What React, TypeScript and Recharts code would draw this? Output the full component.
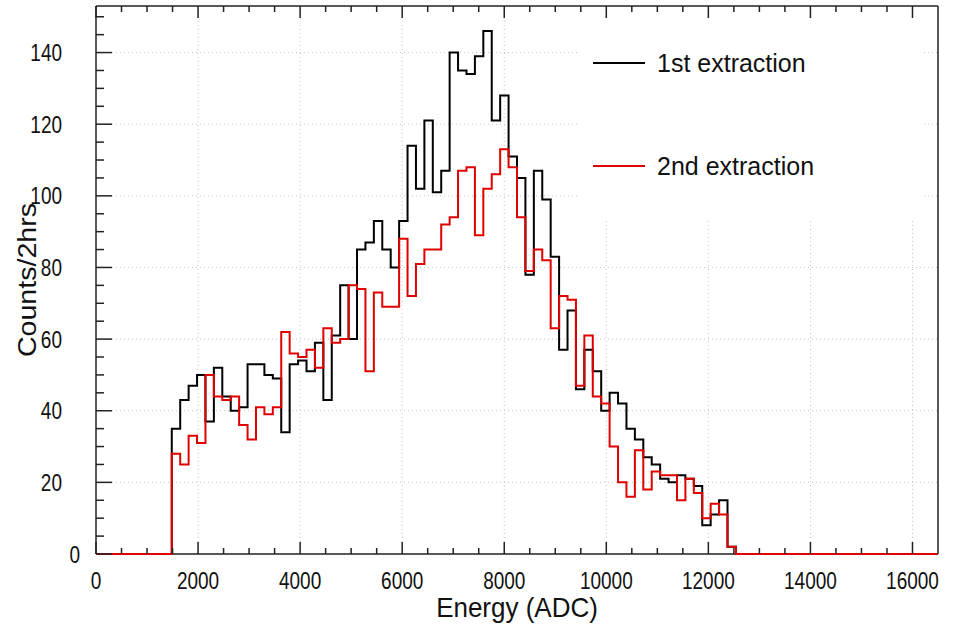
import React from 'react';
import { LineChart, Line, XAxis, YAxis, ReferenceLine, Legend } from 'recharts';

// histogram: 100 bins of 165 ADC, only bins 9..75 are filled
const binWidth = 165;
const nBins = 100;
const firstBin = 9;

const firstExtraction = [
  35, 43, 47, 50, 37, 52, 44, 40, 41, 53,
  53, 50, 49, 34, 53, 54, 51, 59, 43, 61,
  75, 60, 85, 87, 93, 85, 80, 93, 114, 102,
  121, 101, 107, 140, 135, 134, 139, 146, 121, 128,
  111, 105, 78, 107, 99, 83, 57, 68, 46, 57,
  51, 40, 45, 42, 35, 32, 27, 25, 21, 20,
  22, 21, 19, 8, 11, 15, 2,
];

const secondExtraction = [
  28, 25, 33, 31, 50, 44, 43, 44, 36, 32,
  41, 39, 41, 62, 56, 55, 57, 52, 63, 59,
  60, 75, 74, 51, 73, 69, 69, 88, 72, 81,
  85, 85, 92, 94, 107, 108, 89, 102, 106, 113,
  108, 94, 79, 85, 82, 63, 72, 71, 47, 61,
  44, 42, 30, 20, 16, 29, 18, 23, 22, 22,
  15, 21, 17, 10, 14, 11, 2,
];

const xMax = 16500;
const yMax = 153;
const xMajor = [0, 2000, 4000, 6000, 8000, 10000, 12000, 14000, 16000];
const xMinorStep = 500;
const yMajor = [0, 20, 40, 60, 80, 100, 120, 140];
const yMinorStep = 5;

const xTicks: number[] = [];
for (let v = 0; v <= 16000; v += xMinorStep) xTicks.push(v);
const yTicks: number[] = [];
for (let v = 0; v <= 150; v += yMinorStep) yTicks.push(v);

const data: { x: number; first: number; second: number }[] = [];
for (let i = 0; i < nBins; i++) {
  const k = i - firstBin;
  data.push({
    x: i * binWidth,
    first: k >= 0 && k < firstExtraction.length ? firstExtraction[k] : 0,
    second: k >= 0 && k < secondExtraction.length ? secondExtraction[k] : 0,
  });
}
data.push({ x: nBins * binWidth, first: 0, second: 0 });

const FONT = '"Liberation Sans", Arial, Helvetica, sans-serif';
const AXIS = '#222';
const STRETCH = 1.3; // tick labels in the original are drawn tall
const TITLE_STRETCH = 1.1;

const isXMajor = (v: number) => v % 2000 === 0;
const isYMajor = (v: number) => v % 20 === 0;

function BottomTick({ x, y, payload }: any) {
  const major = isXMajor(payload.value);
  return (
    <g>
      <line x1={x} x2={x} y1={y} y2={y - (major ? 12 : 6)} stroke={AXIS} strokeWidth={1.5} />
      {major && (
        <text
          transform={`translate(${x} ${y + 26}) scale(1 ${STRETCH})`}
          dy="0.35em"
          textAnchor="middle"
          fontSize={19}
          fontFamily={FONT}
          fill="#111"
        >
          {payload.value}
        </text>
      )}
    </g>
  );
}

function TopTick({ x, y, payload }: any) {
  const major = isXMajor(payload.value);
  return <line x1={x} x2={x} y1={y} y2={y + (major ? 12 : 6)} stroke={AXIS} strokeWidth={1.5} />;
}

function LeftTick({ x, y, payload }: any) {
  const major = isYMajor(payload.value);
  const lx = payload.value === 0 ? x - 16 : x - 34;
  return (
    <g>
      <line x1={x} x2={x + (major ? 16 : 8)} y1={y} y2={y} stroke={AXIS} strokeWidth={1.5} />
      {major && (
        <text
          transform={`translate(${lx} ${y}) scale(1 ${STRETCH})`}
          dy="0.35em"
          textAnchor="end"
          fontSize={19}
          fontFamily={FONT}
          fill="#111"
        >
          {payload.value}
        </text>
      )}
    </g>
  );
}

function RightTick({ x, y, payload }: any) {
  const major = isYMajor(payload.value);
  return <line x1={x} x2={x - (major ? 15 : 8)} y1={y} y2={y} stroke={AXIS} strokeWidth={1.5} />;
}

function YTitle({ viewBox }: any) {
  const cx = viewBox.x + 27;
  const cy = viewBox.y + viewBox.height / 2;
  return (
    <text
      transform={`translate(${cx} ${cy}) scale(1 ${TITLE_STRETCH}) rotate(-90)`}
      textAnchor="middle"
      dy="0.35em"
      fontSize={26}
      fontFamily={FONT}
      fill="#111"
    >
      Counts/2hrs
    </text>
  );
}

function XTitle({ viewBox }: any) {
  const cx = viewBox.x + viewBox.width / 2;
  const cy = 607;
  return (
    <text
      transform={`translate(${cx} ${cy}) scale(1 1.05)`}
      textAnchor="middle"
      dy="0.35em"
      fontSize={26}
      fontFamily={FONT}
      fill="#111"
    >
      Energy (ADC)
    </text>
  );
}

function LegendBox({ payload }: any) {
  const rows = (payload || []).filter((p: any) => p.type !== 'none');
  return (
    <div style={{ width: 342, height: 199, background: '#fff', position: 'relative', fontFamily: FONT }}>
      {rows.map((p: any, i: number) => (
        <div key={p.value} style={{ position: 'absolute', left: 13, top: 29 + i * 103, height: 30, display: 'flex', alignItems: 'center' }}>
          <div style={{ width: 52, height: 2, background: p.color }} />
          <span style={{ marginLeft: 12, fontSize: 25, color: '#111', whiteSpace: 'nowrap' }}>{p.value}</span>
        </div>
      ))}
    </div>
  );
}

export default function App() {
  return (
    <div style={{ position: 'absolute', left: 0, top: 0, width: 961, height: 624, background: '#fff' }}>
      <LineChart width={961} height={624} data={data} margin={{ top: 5, right: 22, bottom: 0, left: 0 }}>
        {xMajor.slice(1).map((v) => (
          <ReferenceLine key={'gx' + v} x={v} xAxisId="b" yAxisId="l" stroke="#c4c4c4" strokeDasharray="1 3" />
        ))}
        {yMajor.slice(1).map((v) => (
          <ReferenceLine key={'gy' + v} y={v} xAxisId="b" yAxisId="l" stroke="#c4c4c4" strokeDasharray="1 3" />
        ))}
        {/* bottom frame edge, kept under the histograms */}
        <ReferenceLine y={0} xAxisId="b" yAxisId="l" stroke={AXIS} strokeWidth={1.5} />
        <XAxis
          xAxisId="b"
          type="number"
          dataKey="x"
          domain={[0, xMax]}
          ticks={xTicks}
          interval={0}
          tickSize={0}
          tickMargin={0}
          tickLine={false}
          tick={<BottomTick />}
          axisLine={false}
          height={70}
          label={<XTitle />}
        />
        <XAxis
          xAxisId="t"
          orientation="top"
          type="number"
          dataKey="x"
          domain={[0, xMax]}
          ticks={xTicks}
          interval={0}
          tickSize={0}
          tickMargin={0}
          tickLine={false}
          tick={<TopTick />}
          axisLine={{ stroke: AXIS, strokeWidth: 1.5 }}
          height={1}
        />
        <YAxis
          yAxisId="l"
          type="number"
          domain={[0, yMax]}
          ticks={yTicks}
          interval={0}
          tickSize={0}
          tickMargin={0}
          tickLine={false}
          tick={<LeftTick />}
          axisLine={{ stroke: AXIS, strokeWidth: 1.5 }}
          width={96}
          label={<YTitle />}
        />
        <YAxis
          yAxisId="r"
          orientation="right"
          type="number"
          domain={[0, yMax]}
          ticks={yTicks}
          interval={0}
          tickSize={0}
          tickMargin={0}
          tickLine={false}
          tick={<RightTick />}
          axisLine={{ stroke: AXIS, strokeWidth: 1.5 }}
          width={1}
        />
        <Legend
          content={<LegendBox />}
          layout="vertical"
          align="center"
          verticalAlign="middle"
          wrapperStyle={{ left: 580, top: 19, width: 342, height: 199 }}
        />
        <Line
          xAxisId="b"
          yAxisId="l"
          type="stepAfter"
          dataKey="first"
          name="1st extraction"
          stroke="#000"
          strokeWidth={2}
          dot={false}
          isAnimationActive={false}
        />
        <Line
          xAxisId="b"
          yAxisId="l"
          type="stepAfter"
          dataKey="second"
          name="2nd extraction"
          stroke="#e00000"
          strokeWidth={2}
          dot={false}
          isAnimationActive={false}
        />
      </LineChart>
    </div>
  );
}
